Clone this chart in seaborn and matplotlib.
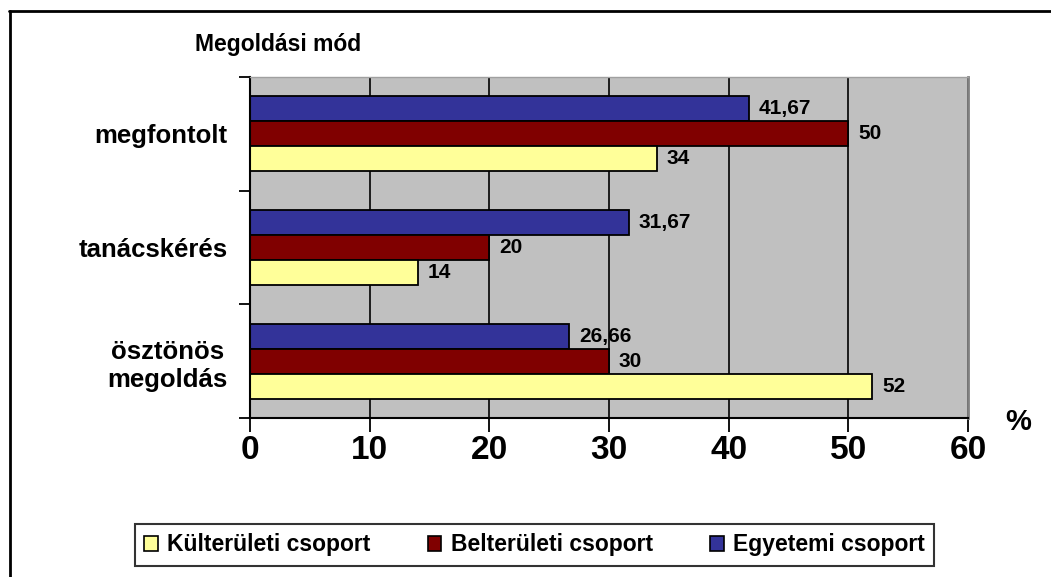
import matplotlib
matplotlib.use("Agg")
import matplotlib.pyplot as plt
from matplotlib.patches import Patch
from matplotlib.lines import Line2D
import seaborn as sns
import pandas as pd

# Data
categories = ["megfontolt", "tanácskérés", "ösztönös\nmegoldás"]
groups = ["Külterületi csoport", "Belterületi csoport", "Egyetemi csoport"]
kulteruleti = [34, 14, 52]
belteruleti = [50, 20, 30]
egyetemi = [41.67, 31.67, 26.66]
x_ticks = [0, 10, 20, 30, 40, 50, 60]

colors = {
    "Külterületi csoport": "#FFFF99",
    "Belterületi csoport": "#800000",
    "Egyetemi csoport": "#333399",
}

rows = []
for grp, vals in zip(groups, [kulteruleti, belteruleti, egyetemi]):
    for cat, v in zip(categories, vals):
        rows.append({"mod": cat, "csoport": grp, "ertek": v})
df = pd.DataFrame(rows)

sns.set_theme(style="white")
plt.rcParams["font.family"] = ["Liberation Sans", "DejaVu Sans"]
plt.rcParams["font.weight"] = "bold"
for key in ["text.color", "axes.labelcolor", "xtick.color", "ytick.color"]:
    plt.rcParams[key] = "black"

fig = plt.figure(figsize=(10.51, 5.77), dpi=100)
ax = fig.add_axes([250 / 1051, 1 - 418 / 577, (968 - 250) / 1051, (418 - 77) / 577])
ax.set_facecolor("#C0C0C0")

# draw order top-to-bottom inside each group: Egyetemi, Belterületi, Külterületi
hue_order = ["Egyetemi csoport", "Belterületi csoport", "Külterületi csoport"]
sns.barplot(
    data=df, y="mod", x="ertek", hue="csoport", hue_order=hue_order,
    order=categories, palette=colors, orient="h", width=0.66,
    edgecolor="black", linewidth=1.3, saturation=1, legend=False, ax=ax,
)

for cont in ax.containers:
    labels = [f"{b.get_width():g}".replace(".", ",") for b in cont]
    ax.bar_label(cont, labels=labels, padding=7, fontsize=15, fontweight="bold",
                 color="black")

ax.set_xlim(0, 60)
ax.set_ylim(2.5, -0.5)
ax.set_xticks(x_ticks)
ax.set_xticklabels([str(t) for t in x_ticks], fontsize=24, fontweight="bold")
ax.xaxis.grid(True, color="black", linewidth=1.2)
ax.set_axisbelow(True)

ax.set_yticks(range(len(categories)))
ax.set_yticklabels(categories, fontsize=18.5, fontweight="bold",
                   multialignment="center", linespacing=1.25)
ax.set_yticks([-0.5, 0.5, 1.5, 2.5], minor=True)
ax.tick_params(axis="y", which="major", length=0, pad=16)
ax.tick_params(axis="y", which="minor", length=8, width=1.3, color="black", left=True)
ax.tick_params(axis="x", which="major", length=10, width=1.3, color="black",
               bottom=True, pad=2)
ax.set_xlabel("")
ax.set_ylabel("")

for side in ["left", "bottom"]:
    ax.spines[side].set_color("black")
    ax.spines[side].set_linewidth(1.5)
ax.spines["right"].set_color("#808080")
ax.spines["right"].set_linewidth(2)
ax.spines["top"].set_color("#A0A0A0")
ax.spines["top"].set_linewidth(1)

fig.text(195 / 1051, 1 - 45 / 577, "Megoldási mód", fontsize=16.5,
         fontweight="bold", va="center", ha="left")
fig.text(1018 / 1051, 1 - 422 / 577, "%", fontsize=21,
         fontweight="bold", va="center", ha="center")

handles = [Patch(facecolor=colors[g], edgecolor="black", linewidth=1.2) for g in groups]
leg = fig.legend(
    handles, groups, loc="center", bbox_to_anchor=(534.5 / 1051, 1 - 545 / 577),
    ncol=3, frameon=True, fancybox=False, edgecolor="black",
    prop={"size": 16.5, "weight": "bold"}, handlelength=0.6, handleheight=0.6,
    handletextpad=0.4, columnspacing=2.5, borderpad=0.4,
)
leg.get_frame().set_linewidth(1.5)

# outer chart frame (top and left edges)
fig.add_artist(Line2D([9 / 1051, 1.0], [1 - 11 / 577, 1 - 11 / 577],
                      color="black", linewidth=2, transform=fig.transFigure))
fig.add_artist(Line2D([10 / 1051, 10 / 1051], [0.0, 1 - 11 / 577],
                      color="black", linewidth=2, transform=fig.transFigure))

fig.savefig("out.png", dpi=100, facecolor="white")
